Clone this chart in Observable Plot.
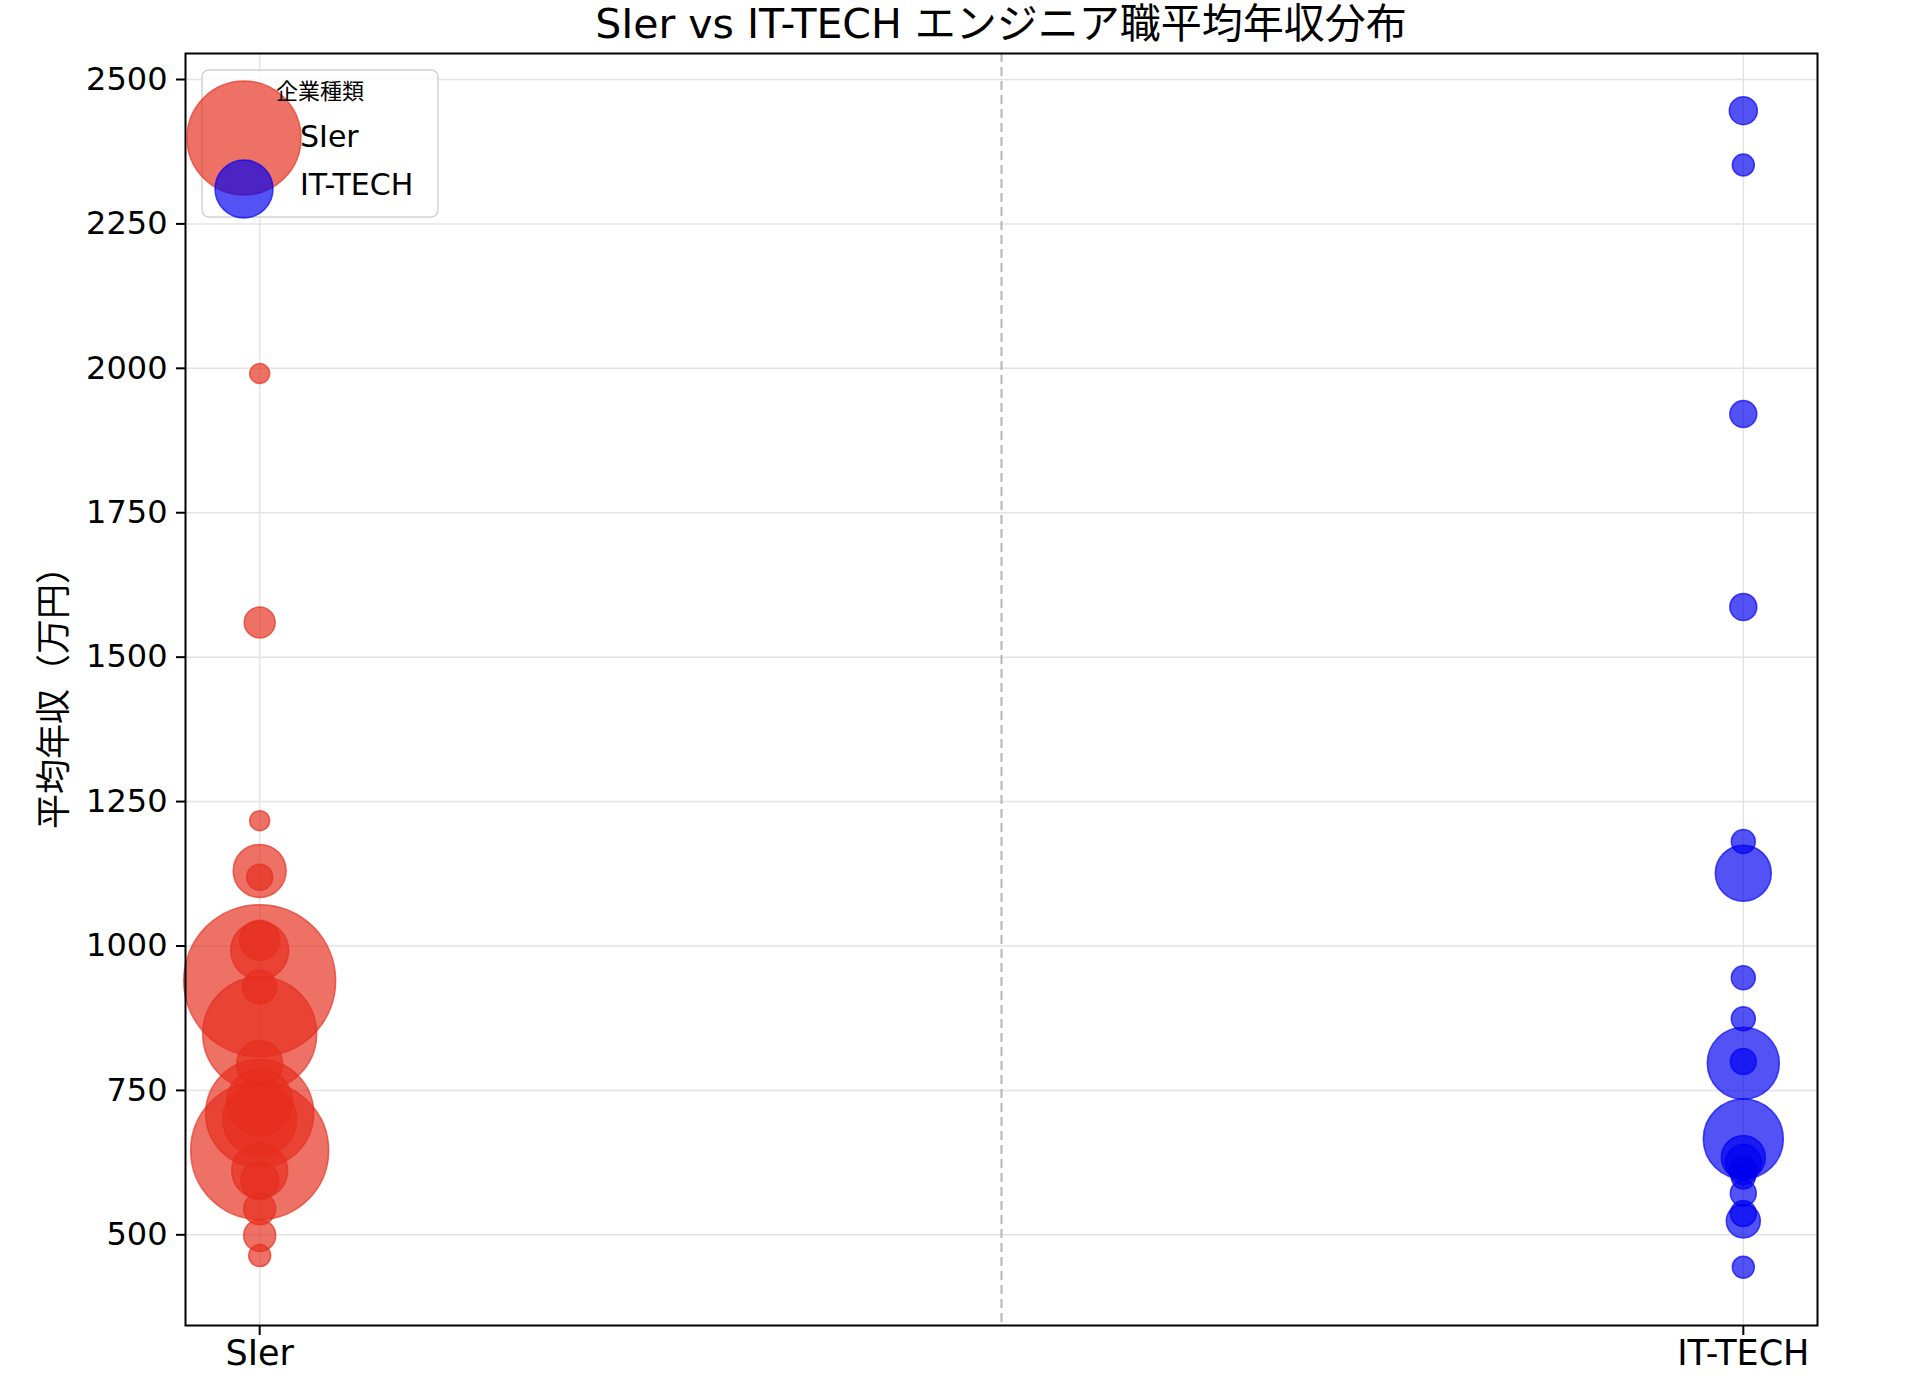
<!DOCTYPE html>
<html>
<head>
<meta charset="utf-8">
<script src="https://cdn.jsdelivr.net/npm/d3@7"></script>
<script src="https://cdn.jsdelivr.net/npm/@observablehq/plot@0.6"></script>
<style>
  html, body { margin: 0; padding: 0; background: #ffffff; }
  #chart { position: relative; width: 1920px; height: 1376px; }
</style>
</head>
<body>
<div id="chart"></div>
<script>
// ---- data ----
const categories = ["SIer", "IT-TECH"];
const titleText = "SIer vs IT-TECH エンジニア職平均年収分布";
const yLabel = "平均年収（万円）";
const legendTitle = "企業種類";
const yTicks = [500, 750, 1000, 1250, 1500, 1750, 2000, 2250, 2500];

// SIer: average salary (万円) and bubble size
const sierSalary = [1991, 1560, 1217, 1130, 1119, 1010, 992, 940, 929, 848, 796, 730, 710, 700, 646, 611, 594, 545, 499, 464];
const sierSize   = [100, 240, 100, 702, 169, 400, 841, 5776, 289, 3249, 529, 1089, 2916, 1369, 4761, 784, 361, 256, 256, 121];

// IT-TECH: average salary (万円) and bubble size
const itSalary = [2446, 2352, 1921, 1587, 1181, 1126, 945, 874, 797, 800, 666, 634, 625, 611, 600, 572, 537, 524, 444];
const itSize   = [196, 121, 182, 182, 144, 784, 144, 144, 1296, 169, 1600, 484, 324, 196, 144, 169, 169, 289, 121];

const colors = ["#e62e1e", "#0000f0"];
const legendSize = [3249, 841];

// ---- table ----
const rows = [
  ...sierSalary.map((v, i) => ({cat: categories[0], xi: 0, salary: v, size: sierSize[i]})),
  ...itSalary.map((v, i) => ({cat: categories[1], xi: 1, salary: v, size: itSize[i]}))
];
const divider = (categories.length - 1) / 2;
const maxSize = d3.max(rows, d => d.size);

const W = 1920, H = 1376;
const mL = 185, mR = 103, mT = 53, mB = 51;
const font = "'DejaVu Sans', 'Noto Sans CJK JP', sans-serif";

const plot = Plot.plot({
  width: W,
  height: H,
  marginLeft: mL,
  marginRight: mR,
  marginTop: mT,
  marginBottom: mB,
  style: {fontFamily: font, fontSize: "32px", color: "#000", background: "#fff"},
  x: {type: "linear", domain: [-0.05, 1.05]},
  y: {type: "linear", domain: [343, 2545]},
  r: {type: "sqrt", domain: [0, maxSize], range: [0, 76]},
  color: {domain: categories, range: colors},
  marks: [
    Plot.gridY(yTicks, {stroke: "#e3e3e3", strokeOpacity: 1, strokeWidth: 1.5}),
    Plot.gridX([0, 1], {stroke: "#e3e3e3", strokeOpacity: 1, strokeWidth: 1.5}),
    Plot.ruleX([divider], {stroke: "#b5b5b5", strokeWidth: 2, strokeDasharray: "9,5"}),
    Plot.dot(rows, {x: "xi", y: "salary", r: "size", fill: "cat", stroke: "cat",
      fillOpacity: 0.68, strokeOpacity: 0.68, strokeWidth: 1.5}),
    Plot.axisY(yTicks, {tickSize: 9, tickPadding: 9, label: null, strokeWidth: 2, fontSize: 32, tickFormat: d3.format("d")}),
    Plot.axisX([0, 1], {tickFormat: i => categories[i], tickSize: 10, tickPadding: 5, label: null, strokeWidth: 2, fontSize: 35}),
    Plot.frame({stroke: "#000", strokeWidth: 2})
  ]
});
document.getElementById("chart").appendChild(plot);

// ---- title, y label and legend ----
const svg = d3.select(plot);

svg.append("text")
  .attr("x", (mL + W - mR) / 2)
  .attr("y", 38)
  .attr("text-anchor", "middle")
  .attr("font-family", font)
  .attr("font-size", 41)
  .attr("fill", "#000")
  .text(titleText);

svg.append("text")
  .attr("transform", `translate(50,${(mT + H - mB) / 2}) rotate(-90)`)
  .attr("text-anchor", "middle")
  .attr("dominant-baseline", "central")
  .attr("font-family", "'Noto Sans CJK JP', sans-serif")
  .attr("font-size", 35)
  .attr("fill", "#000")
  .text(yLabel);

const lg = svg.append("g");
lg.append("rect")
  .attr("x", 202).attr("y", 70).attr("width", 236).attr("height", 147)
  .attr("rx", 7)
  .attr("fill", "#fff").attr("fill-opacity", 0.8)
  .attr("stroke", "#d2d2d2").attr("stroke-width", 1.5);
const handleY = [138, 189];
const textY = [147, 195];
categories.forEach((c, i) => {
  lg.append("circle")
    .attr("cx", 244).attr("cy", handleY[i])
    .attr("r", Math.sqrt(legendSize[i]))
    .attr("fill", colors[i]).attr("fill-opacity", 0.68)
    .attr("stroke", colors[i]).attr("stroke-opacity", 0.68).attr("stroke-width", 1.5);
});
lg.append("text")
  .attr("x", 320).attr("y", 99)
  .attr("text-anchor", "middle")
  .attr("font-family", "'Noto Sans CJK JP', sans-serif")
  .attr("font-size", 22)
  .attr("fill", "#000")
  .text(legendTitle);
categories.forEach((c, i) => {
  lg.append("text")
    .attr("x", 300).attr("y", textY[i])
    .attr("text-anchor", "start")
    .attr("font-family", font)
    .attr("font-size", 30)
    .attr("fill", "#000")
    .text(c);
});
</script>
</body>
</html>
